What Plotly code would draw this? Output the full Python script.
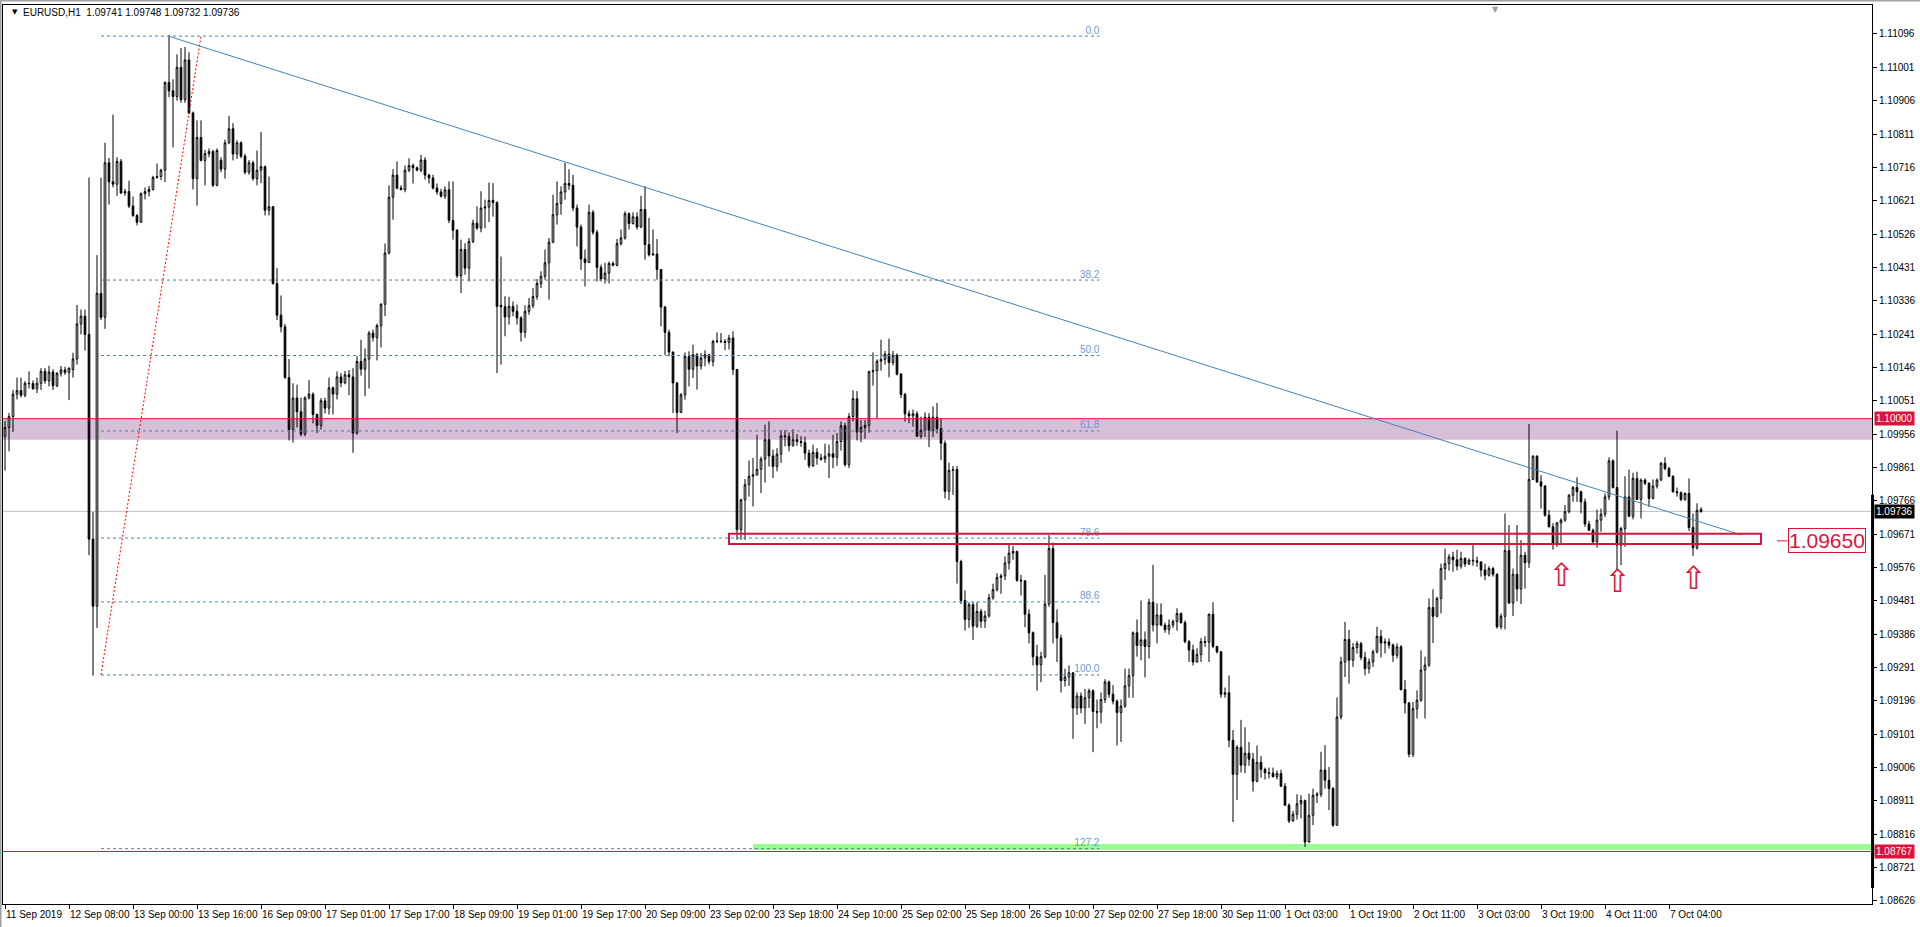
import plotly.graph_objects as go

# ---------------- data (EURUSD H1, bar index 0 = 11 Sep 16:00) ----------------
open_ = [
1.09950,1.09975,1.10006,1.10070,1.10080,1.10067,1.10101,1.10100,1.10085,1.10101,
1.10135,1.10108,1.10133,1.10094,1.10129,1.10139,1.10132,1.10140,1.10170,1.10270,
1.10292,1.10240,1.09657,1.09466,1.10357,1.10289,1.10729,1.10675,1.10668,1.10733,
1.10643,1.10647,1.10606,1.10579,1.10560,1.10641,1.10647,1.10653,1.10687,1.10690,
1.10708,1.10958,1.10934,1.10918,1.11001,1.10909,1.11022,1.10871,1.10684,1.10801,
1.10736,1.10755,1.10761,1.10665,1.10736,1.10711,1.10786,1.10826,1.10754,1.10786,
1.10748,1.10702,1.10729,1.10684,1.10708,1.10718,1.10594,1.10604,1.10385,1.10295,
1.10262,1.10117,1.09969,1.10059,1.10020,1.09956,1.10059,1.10070,1.10012,1.09981,
1.10051,1.10030,1.10088,1.10070,1.10119,1.10102,1.10125,1.10119,1.09959,1.10163,
1.10141,1.10170,1.10244,1.10231,1.10265,1.10326,1.10472,1.10631,1.10694,1.10657,
1.10653,1.10708,1.10721,1.10715,1.10708,1.10737,1.10694,1.10686,1.10657,1.10646,
1.10634,1.10652,1.10565,1.10537,1.10407,1.10482,1.10429,1.10505,1.10557,1.10543,
1.10600,1.10603,1.10622,1.10616,1.10323,1.10319,1.10290,1.10320,1.10306,1.10287,
1.10246,1.10306,1.10322,1.10348,1.10385,1.10406,1.10444,1.10503,1.10581,1.10613,
1.10646,1.10670,1.10665,1.10600,1.10546,1.10455,1.10445,1.10588,1.10531,1.10431,
1.10398,1.10415,1.10442,1.10437,1.10499,1.10515,1.10584,1.10556,1.10575,1.10546,
1.10596,1.10496,1.10467,1.10469,1.10425,1.10318,1.10246,1.10190,1.10102,1.10018,
1.10068,1.10177,1.10141,1.10182,1.10150,1.10173,1.10182,1.10163,1.10220,1.10221,
1.10220,1.10217,1.10230,1.10140,1.09684,1.09769,1.09812,1.09836,1.09840,1.09856,
1.09885,1.09940,1.09894,1.09864,1.09899,1.09951,1.09949,1.09923,1.09940,1.09935,
1.09932,1.09902,1.09866,1.09904,1.09888,1.09885,1.09893,1.09900,1.09890,1.09935,
1.09980,1.09869,1.10006,1.10057,1.09962,1.09975,1.09981,1.10134,1.10137,1.10164,
1.10169,1.10184,1.10160,1.10181,1.10127,1.10069,1.10014,1.10008,1.10014,1.09950,
1.09967,1.10004,1.09967,1.10004,1.09972,1.09930,1.09793,1.09853,1.09855,1.09593,
1.09482,1.09428,1.09470,1.09409,1.09451,1.09423,1.09438,1.09490,1.09513,1.09548,
1.09552,1.09589,1.09617,1.09622,1.09540,1.09538,1.09443,1.09390,1.09322,1.09299,
1.09322,1.09472,1.09630,1.09419,1.09375,1.09254,1.09264,1.09276,1.09176,1.09210,
1.09176,1.09205,1.09225,1.09166,1.09164,1.09200,1.09250,1.09215,1.09195,1.09163,
1.09181,1.09239,1.09268,1.09390,1.09354,1.09370,1.09351,1.09477,1.09412,1.09441,
1.09412,1.09399,1.09412,1.09422,1.09445,1.09419,1.09365,1.09341,1.09307,1.09328,
1.09365,1.09363,1.09443,1.09351,1.09336,1.09215,1.09219,1.09084,1.08987,1.09064,
1.09013,1.09047,1.09030,1.08967,1.09021,1.09001,1.08991,1.08990,1.08980,1.08989,
1.08953,1.08899,1.08854,1.08873,1.08903,1.08912,1.08794,1.08870,1.08927,1.08930,
1.08999,1.08970,1.08946,1.08842,1.09150,1.09307,1.09371,1.09312,1.09348,1.09359,
1.09320,1.09288,1.09307,1.09336,1.09380,1.09361,1.09364,1.09355,1.09326,1.09350,
1.09228,1.09190,1.09044,1.09174,1.09198,1.09284,1.09298,1.09462,1.09437,1.09488,
1.09573,1.09587,1.09606,1.09598,1.09580,1.09602,1.09586,1.09597,1.09595,1.09592,
1.09569,1.09554,1.09573,1.09557,1.09407,1.09437,1.09624,1.09475,1.09557,1.09515,
1.09611,1.09590,1.09827,1.09893,1.09820,1.09808,1.09725,1.09692,1.09645,1.09703,
1.09711,1.09735,1.09782,1.09804,1.09792,1.09763,1.09700,1.09682,1.09649,1.09711,
1.09728,1.09777,1.09880,1.09804,1.09640,1.09687,1.09777,1.09722,1.09830,1.09770,
1.09825,1.09816,1.09773,1.09808,1.09825,1.09873,1.09858,1.09836,1.09792,1.09789,
1.09770,1.09787,1.09690,1.09632,1.09741]

high = [
1.09993,1.10016,1.10082,1.10117,1.10117,1.10107,1.10135,1.10109,1.10117,1.10144,
1.10144,1.10151,1.10141,1.10133,1.10150,1.10148,1.10146,1.10188,1.10324,1.10311,
1.10311,1.10687,1.09734,1.10466,1.10687,1.10786,1.10743,1.10866,1.10745,1.10740,
1.10655,1.10678,1.10633,1.10583,1.10645,1.10659,1.10663,1.10692,1.10727,1.10712,
1.10961,1.11093,1.10967,1.11038,1.11056,1.11059,1.11044,1.10875,1.10850,1.10850,
1.10766,1.10770,1.10766,1.10770,1.10745,1.10795,1.10863,1.10842,1.10793,1.10790,
1.10755,1.10737,1.10735,1.10764,1.10817,1.10721,1.10690,1.10606,1.10429,1.10351,
1.10270,1.10170,1.10101,1.10097,1.10060,1.10064,1.10110,1.10075,1.10015,1.10059,
1.10060,1.10117,1.10092,1.10135,1.10130,1.10136,1.10139,1.10144,1.10178,1.10225,
1.10200,1.10250,1.10254,1.10271,1.10329,1.10499,1.10665,1.10711,1.10733,1.10665,
1.10721,1.10742,1.10727,1.10718,1.10752,1.10745,1.10698,1.10695,1.10670,1.10655,
1.10662,1.10676,1.10676,1.10540,1.10510,1.10500,1.10515,1.10567,1.10605,1.10648,
1.10624,1.10673,1.10671,1.10619,1.10462,1.10349,1.10347,1.10334,1.10325,1.10292,
1.10323,1.10344,1.10372,1.10398,1.10420,1.10482,1.10515,1.10638,1.10676,1.10662,
1.10729,1.10711,1.10695,1.10610,1.10553,1.10482,1.10610,1.10594,1.10538,1.10439,
1.10444,1.10448,1.10448,1.10512,1.10539,1.10591,1.10588,1.10588,1.10588,1.10635,
1.10662,1.10572,1.10539,1.10512,1.10426,1.10321,1.10254,1.10191,1.10104,1.10073,
1.10189,1.10192,1.10211,1.10187,1.10187,1.10195,1.10185,1.10225,1.10246,1.10244,
1.10227,1.10239,1.10249,1.10142,1.09772,1.09828,1.09881,1.09888,1.09954,1.09892,
1.09983,1.09992,1.09912,1.09916,1.09968,1.09968,1.09961,1.09970,1.09956,1.09950,
1.09949,1.09912,1.09926,1.09916,1.09900,1.09929,1.09926,1.09954,1.09959,1.09992,
1.09988,1.10016,1.10081,1.10079,1.09996,1.09996,1.10137,1.10189,1.10169,1.10225,
1.10193,1.10228,1.10193,1.10186,1.10130,1.10074,1.10023,1.10026,1.10021,1.10006,
1.10018,1.10016,1.10035,1.10045,1.10001,1.09938,1.09875,1.09865,1.09865,1.09598,
1.09511,1.09477,1.09477,1.09477,1.09458,1.09453,1.09501,1.09530,1.09560,1.09558,
1.09608,1.09642,1.09637,1.09624,1.09555,1.09540,1.09457,1.09394,1.09356,1.09336,
1.09555,1.09668,1.09647,1.09457,1.09385,1.09288,1.09297,1.09278,1.09220,1.09220,
1.09230,1.09231,1.09229,1.09200,1.09220,1.09258,1.09254,1.09241,1.09200,1.09200,
1.09288,1.09288,1.09394,1.09428,1.09482,1.09394,1.09487,1.09584,1.09474,1.09474,
1.09419,1.09428,1.09428,1.09460,1.09448,1.09425,1.09370,1.09356,1.09346,1.09375,
1.09380,1.09445,1.09477,1.09353,1.09338,1.09234,1.09268,1.09113,1.09070,1.09142,
1.09121,1.09079,1.09048,1.09069,1.09039,1.09006,1.09006,1.09006,1.08998,1.09000,
1.08962,1.08904,1.08883,1.08930,1.08927,1.08915,1.08932,1.08946,1.08936,1.09051,
1.09070,1.09008,1.08951,1.09206,1.09322,1.09421,1.09398,1.09361,1.09367,1.09364,
1.09336,1.09317,1.09342,1.09407,1.09398,1.09374,1.09374,1.09360,1.09360,1.09355,
1.09255,1.09193,1.09193,1.09226,1.09340,1.09322,1.09488,1.09514,1.09493,1.09587,
1.09630,1.09614,1.09621,1.09627,1.09621,1.09605,1.09602,1.09640,1.09607,1.09594,
1.09587,1.09580,1.09578,1.09559,1.09445,1.09730,1.09697,1.09573,1.09697,1.09654,
1.09621,1.09985,1.09896,1.09896,1.09839,1.09811,1.09740,1.09702,1.09706,1.09716,
1.09754,1.09785,1.09808,1.09833,1.09795,1.09773,1.09709,1.09687,1.09741,1.09744,
1.09787,1.09890,1.09884,1.09966,1.09692,1.09836,1.09855,1.09846,1.09849,1.09830,
1.09830,1.09819,1.09827,1.09830,1.09877,1.09890,1.09863,1.09839,1.09804,1.09793,
1.09790,1.09830,1.09730,1.09759,1.09748]

low = [
1.09852,1.09907,1.09962,1.10055,1.10061,1.10061,1.10086,1.10083,1.10073,1.10082,
1.10100,1.10092,1.10082,1.10090,1.10120,1.10125,1.10053,1.10117,1.10154,1.10240,
1.10194,1.09611,1.09268,1.09404,1.10281,1.10256,1.10610,1.10659,1.10635,1.10640,
1.10635,1.10600,1.10575,1.10551,1.10558,1.10625,1.10633,1.10650,1.10684,1.10680,
1.10674,1.10916,1.10773,1.10906,1.10900,1.10900,1.10868,1.10653,1.10607,1.10733,
1.10665,1.10745,1.10660,1.10662,1.10702,1.10684,1.10782,1.10736,1.10740,1.10742,
1.10696,1.10695,1.10678,1.10665,1.10671,1.10579,1.10579,1.10382,1.10281,1.10246,
1.10114,1.09938,1.09932,1.09975,1.09950,1.09950,1.10055,1.09987,1.09959,1.09969,
1.10015,1.10012,1.10012,1.10055,1.10090,1.10098,1.10067,1.09903,1.09954,1.10123,
1.10064,1.10086,1.10220,1.10166,1.10203,1.10292,1.10468,1.10567,1.10653,1.10650,
1.10645,1.10702,1.10670,1.10705,1.10702,1.10681,1.10670,1.10653,1.10638,1.10630,
1.10626,1.10557,1.10510,1.10401,1.10358,1.10410,1.10391,1.10500,1.10538,1.10531,
1.10543,1.10560,1.10576,1.10130,1.10154,1.10235,1.10268,1.10292,1.10268,1.10220,
1.10230,1.10296,1.10315,1.10339,1.10372,1.10396,1.10339,1.10500,1.10553,1.10581,
1.10624,1.10652,1.10591,1.10491,1.10424,1.10377,1.10444,1.10524,1.10391,1.10391,
1.10385,1.10385,1.10434,1.10434,1.10493,1.10510,1.10539,1.10553,1.10539,1.10543,
1.10453,1.10462,1.10464,1.10396,1.10263,1.10182,1.10178,1.10016,1.09959,1.10016,
1.10054,1.10092,1.10116,1.10083,1.10140,1.10149,1.10155,1.10149,1.10215,1.10215,
1.10195,1.10197,1.10125,1.09655,1.09655,1.09655,1.09778,1.09750,1.09838,1.09788,
1.09818,1.09864,1.09831,1.09850,1.09874,1.09921,1.09907,1.09921,1.09923,1.09920,
1.09883,1.09859,1.09862,1.09869,1.09880,1.09874,1.09831,1.09859,1.09866,1.09909,
1.09864,1.09859,1.09992,1.09938,1.09933,1.09943,1.09960,1.10094,1.10001,1.10137,
1.10154,1.10118,1.10152,1.10123,1.10059,1.09992,1.09987,1.09977,1.09948,1.09943,
1.09948,1.09919,1.09948,1.09958,1.09882,1.09773,1.09768,1.09783,1.09530,1.09472,
1.09396,1.09404,1.09370,1.09404,1.09404,1.09404,1.09433,1.09484,1.09508,1.09501,
1.09540,1.09570,1.09598,1.09535,1.09496,1.09406,1.09360,1.09297,1.09225,1.09249,
1.09317,1.09464,1.09360,1.09307,1.09220,1.09237,1.09239,1.09088,1.09156,1.09161,
1.09130,1.09176,1.09050,1.09118,1.09132,1.09190,1.09205,1.09186,1.09069,1.09079,
1.09176,1.09205,1.09205,1.09322,1.09312,1.09263,1.09317,1.09394,1.09360,1.09409,
1.09390,1.09385,1.09404,1.09396,1.09416,1.09360,1.09307,1.09297,1.09305,1.09307,
1.09350,1.09307,1.09346,1.09331,1.09205,1.09205,1.09064,1.08851,1.08914,1.08992,
1.08990,1.09011,1.08938,1.08964,1.08977,1.08972,1.08975,1.08978,1.08972,1.08951,
1.08896,1.08848,1.08852,1.08858,1.08861,1.08780,1.08792,1.08842,1.08905,1.08922,
1.08946,1.08885,1.08837,1.08840,1.09143,1.09264,1.09245,1.09293,1.09331,1.09312,
1.09269,1.09274,1.09293,1.09331,1.09320,1.09331,1.09345,1.09307,1.09317,1.09226,
1.09160,1.09035,1.09036,1.09146,1.09193,1.09146,1.09293,1.09361,1.09434,1.09445,
1.09540,1.09567,1.09564,1.09568,1.09573,1.09578,1.09583,1.09581,1.09578,1.09550,
1.09540,1.09550,1.09550,1.09402,1.09400,1.09400,1.09472,1.09438,1.09480,1.09472,
1.09516,1.09575,1.09825,1.09817,1.09744,1.09721,1.09690,1.09627,1.09635,1.09645,
1.09706,1.09730,1.09763,1.09763,1.09730,1.09692,1.09681,1.09645,1.09633,1.09678,
1.09720,1.09768,1.09801,1.09570,1.09583,1.09635,1.09720,1.09713,1.09768,1.09716,
1.09811,1.09749,1.09770,1.09801,1.09823,1.09853,1.09834,1.09789,1.09778,1.09765,
1.09766,1.09680,1.09609,1.09627,1.09732]

close = [
1.09975,1.10006,1.10070,1.10080,1.10067,1.10101,1.10100,1.10085,1.10101,1.10135,
1.10108,1.10133,1.10094,1.10129,1.10139,1.10132,1.10144,1.10170,1.10270,1.10292,
1.10240,1.09657,1.09466,1.10357,1.10289,1.10729,1.10675,1.10668,1.10733,1.10643,
1.10647,1.10606,1.10579,1.10560,1.10641,1.10647,1.10653,1.10687,1.10690,1.10708,
1.10958,1.10934,1.10918,1.11001,1.10909,1.11022,1.10871,1.10684,1.10801,1.10736,
1.10755,1.10761,1.10665,1.10764,1.10711,1.10786,1.10826,1.10754,1.10786,1.10748,
1.10702,1.10729,1.10684,1.10708,1.10718,1.10594,1.10604,1.10385,1.10295,1.10262,
1.10117,1.09969,1.10059,1.10020,1.09956,1.10059,1.10070,1.10012,1.09981,1.10051,
1.10030,1.10088,1.10070,1.10119,1.10102,1.10125,1.10119,1.09959,1.10163,1.10141,
1.10170,1.10244,1.10231,1.10265,1.10326,1.10472,1.10631,1.10694,1.10657,1.10653,
1.10708,1.10721,1.10715,1.10708,1.10737,1.10694,1.10686,1.10657,1.10646,1.10634,
1.10652,1.10565,1.10537,1.10407,1.10482,1.10429,1.10505,1.10557,1.10543,1.10600,
1.10603,1.10622,1.10616,1.10320,1.10319,1.10290,1.10320,1.10306,1.10287,1.10246,
1.10306,1.10322,1.10348,1.10385,1.10406,1.10444,1.10503,1.10581,1.10613,1.10646,
1.10670,1.10665,1.10600,1.10546,1.10455,1.10445,1.10588,1.10531,1.10431,1.10398,
1.10415,1.10442,1.10437,1.10499,1.10515,1.10584,1.10556,1.10575,1.10546,1.10596,
1.10496,1.10467,1.10469,1.10425,1.10318,1.10246,1.10190,1.10102,1.10018,1.10068,
1.10177,1.10141,1.10182,1.10150,1.10173,1.10182,1.10163,1.10220,1.10221,1.10220,
1.10217,1.10230,1.10140,1.09684,1.09769,1.09812,1.09836,1.09840,1.09856,1.09885,
1.09940,1.09894,1.09864,1.09899,1.09951,1.09949,1.09923,1.09940,1.09935,1.09932,
1.09902,1.09866,1.09904,1.09888,1.09885,1.09893,1.09900,1.09890,1.09935,1.09980,
1.09869,1.10006,1.10057,1.09962,1.09975,1.09981,1.10134,1.10137,1.10164,1.10169,
1.10184,1.10160,1.10181,1.10127,1.10069,1.10014,1.10008,1.10014,1.09950,1.09967,
1.10004,1.09967,1.10004,1.09972,1.09930,1.09793,1.09853,1.09855,1.09593,1.09482,
1.09428,1.09470,1.09409,1.09451,1.09423,1.09438,1.09490,1.09513,1.09548,1.09552,
1.09589,1.09617,1.09622,1.09540,1.09538,1.09443,1.09390,1.09322,1.09299,1.09322,
1.09472,1.09630,1.09419,1.09375,1.09254,1.09264,1.09276,1.09176,1.09210,1.09176,
1.09205,1.09225,1.09166,1.09164,1.09200,1.09250,1.09215,1.09195,1.09163,1.09181,
1.09239,1.09268,1.09390,1.09354,1.09370,1.09351,1.09477,1.09412,1.09441,1.09412,
1.09399,1.09412,1.09422,1.09445,1.09419,1.09365,1.09341,1.09307,1.09328,1.09365,
1.09363,1.09443,1.09351,1.09336,1.09215,1.09219,1.09084,1.08987,1.09064,1.09013,
1.09047,1.09030,1.08967,1.09021,1.09001,1.08991,1.08990,1.08980,1.08989,1.08953,
1.08899,1.08854,1.08873,1.08903,1.08912,1.08794,1.08870,1.08927,1.08930,1.08999,
1.08970,1.08946,1.08842,1.09150,1.09307,1.09371,1.09312,1.09348,1.09359,1.09320,
1.09288,1.09307,1.09336,1.09380,1.09361,1.09364,1.09355,1.09326,1.09350,1.09228,
1.09190,1.09044,1.09174,1.09198,1.09284,1.09298,1.09462,1.09437,1.09488,1.09573,
1.09587,1.09606,1.09598,1.09580,1.09602,1.09586,1.09597,1.09595,1.09592,1.09569,
1.09554,1.09573,1.09557,1.09407,1.09437,1.09624,1.09475,1.09557,1.09515,1.09611,
1.09590,1.09827,1.09893,1.09820,1.09808,1.09725,1.09692,1.09645,1.09703,1.09711,
1.09735,1.09782,1.09804,1.09792,1.09763,1.09700,1.09682,1.09649,1.09711,1.09728,
1.09777,1.09880,1.09804,1.09640,1.09687,1.09777,1.09722,1.09830,1.09770,1.09825,
1.09816,1.09773,1.09808,1.09825,1.09873,1.09858,1.09836,1.09792,1.09789,1.09770,
1.09787,1.09690,1.09632,1.09739,1.09736]

bar_index = list(range(len(close)))

# time-axis labels (every 16 bars)
time_tick_pos = [0, 16, 32, 48, 64, 80, 96, 112, 128, 144, 160, 176, 192, 208,
                 224, 240, 256, 272, 288, 304, 320, 336, 352, 368, 384, 400, 416]
time_tick_text = ["11 Sep 2019", "12 Sep 08:00", "13 Sep 00:00", "13 Sep 16:00",
                  "16 Sep 09:00", "17 Sep 01:00", "17 Sep 17:00", "18 Sep 09:00",
                  "19 Sep 01:00", "19 Sep 17:00", "20 Sep 09:00", "23 Sep 02:00",
                  "23 Sep 18:00", "24 Sep 10:00", "25 Sep 02:00", "25 Sep 18:00",
                  "26 Sep 10:00", "27 Sep 02:00", "27 Sep 18:00", "30 Sep 11:00",
                  "1 Oct 03:00", "1 Oct 19:00", "2 Oct 11:00", "3 Oct 03:00",
                  "3 Oct 19:00", "4 Oct 11:00", "7 Oct 04:00"]

price_ticks = [1.08626, 1.08721, 1.08816, 1.08911, 1.09006, 1.09101, 1.09196,
               1.09291, 1.09386, 1.09481, 1.09576, 1.09671, 1.09766, 1.09861,
               1.09956, 1.10051, 1.10146, 1.10241, 1.10336, 1.10431, 1.10526,
               1.10621, 1.10716, 1.10811, 1.10906, 1.11001, 1.11096]
price_tick_text = ["%.5f" % v for v in price_ticks]

# Fibonacci retracement (anchors: low 1.0927 -> high 1.1109)
fib_anchor_x = [24, 49]
fib_anchor_y = [1.09270, 1.11090]
fib_line_end_x = 273.6
fib_levels = ["0.0", "38.2", "50.0", "61.8", "78.6", "88.6", "100.0", "127.2"]
fib_prices = [1.11090, 1.10395, 1.10180, 1.09965, 1.09660, 1.09478, 1.09270, 1.08775]

# trend line
trend_x = [41.1, 434]
trend_y = [1.11089, 1.09669]

# zones / levels
purple_zone = [1.09940, 1.10000]
green_zone = [1.08771, 1.08788]
green_zone_start = 187
support_box_x = [181, 439]
support_box_y = [1.09643, 1.09672]
support_label = "1.09650"
support_label_x = 445.75
support_label_dash_x = [443, 445.6]
support_label_y = 1.09652
red_level = 1.08767
resistance_level = 1.10000
bid_price = 1.09736
bid_marker_range = [1.08663, 1.09783]
arrow_x = [389, 403, 422]
arrow_y = [1.09556, 1.09538, 1.09547]
header = "EURUSD,H1\u00a0\u00a01.09741 1.09748 1.09732 1.09736"

# ---------------- figure ----------------
CRIMSON = "#DC143C"
FIBC = "#4682B4"
FONT = "Liberation Sans, Arial, sans-serif"

fig = go.Figure()
fig.add_trace(go.Candlestick(
    x=bar_index, open=open_, high=high, low=low, close=close,
    increasing=dict(line=dict(color="black", width=1), fillcolor="white"),
    decreasing=dict(line=dict(color="black", width=1), fillcolor="black"),
    whiskerwidth=0, hoverinfo="skip", showlegend=False))

# fib labels as text trace (so the box outline can cross them)
fig.add_trace(go.Scatter(
    x=[fib_line_end_x] * len(fib_levels), y=fib_prices, text=fib_levels,
    mode="text", textposition="top left",
    textfont=dict(family=FONT, size=10, color="#6A9BD1"),
    hoverinfo="skip", showlegend=False))

shapes = []
shapes.append(dict(type="rect", xref="paper", x0=0, x1=1, yref="y",
                   y0=purple_zone[0], y1=purple_zone[1],
                   fillcolor="#D8BFD8", line=dict(width=0), layer="below"))
shapes.append(dict(type="line", xref="paper", x0=0, x1=1, yref="y",
                   y0=resistance_level, y1=resistance_level,
                   line=dict(color=CRIMSON, width=1), layer="above"))
shapes.append(dict(type="rect", xref="x", x0=green_zone_start, x1=466.75, yref="y",
                   y0=green_zone[0], y1=green_zone[1],
                   fillcolor="#98FB98", line=dict(width=0), layer="below"))
shapes.append(dict(type="line", xref="paper", x0=0, x1=1, yref="y",
                   y0=red_level, y1=red_level,
                   line=dict(color=CRIMSON, width=1), layer="above"))
shapes.append(dict(type="line", xref="paper", x0=0, x1=1, yref="y",
                   y0=bid_price, y1=bid_price,
                   line=dict(color="#C0C0C0", width=1), layer="below"))
for p in fib_prices:
    shapes.append(dict(type="line", xref="x", x0=fib_anchor_x[0], x1=fib_line_end_x,
                       yref="y", y0=p, y1=p,
                       line=dict(color=FIBC, width=1, dash="3px,3px"), layer="above"))
shapes.append(dict(type="line", xref="x", x0=fib_anchor_x[0], x1=fib_anchor_x[1],
                   yref="y", y0=fib_anchor_y[0], y1=fib_anchor_y[1],
                   line=dict(color="red", width=1, dash="2px,2px"), layer="above"))
shapes.append(dict(type="line", xref="x", x0=trend_x[0], x1=trend_x[1],
                   yref="y", y0=trend_y[0], y1=trend_y[1],
                   line=dict(color=FIBC, width=1), layer="above"))
shapes.append(dict(type="rect", xref="x", x0=support_box_x[0], x1=support_box_x[1],
                   yref="y", y0=support_box_y[0], y1=support_box_y[1],
                   line=dict(color=CRIMSON, width=2), fillcolor="rgba(0,0,0,0)",
                   layer="above"))
shapes.append(dict(type="line", xref="x", x0=support_label_dash_x[0],
                   x1=support_label_dash_x[1], yref="y",
                   y0=support_label_y, y1=support_label_y,
                   line=dict(color=CRIMSON, width=1), layer="above"))
shapes.append(dict(type="line", xref="paper", x0=1.0003, x1=1.0003, yref="y",
                   y0=bid_marker_range[0], y1=bid_marker_range[1],
                   line=dict(color="black", width=3), layer="above"))
shapes.append(dict(type="line", xref="paper", yref="paper", x0=-0.002, x1=1.03,
                   y0=1.0051, y1=1.0051, line=dict(color="#A0A0A0", width=2)))
shapes.append(dict(type="line", xref="paper", yref="paper", x0=-0.0013, x1=-0.0013,
                   y0=-0.03, y1=1.006, line=dict(color="#A0A0A0", width=2)))

annotations = []
for pos, txt in zip(time_tick_pos, time_tick_text):
    annotations.append(dict(x=pos, xref="x", y=0, yref="paper", text=txt,
                            showarrow=False, xanchor="left", yanchor="top",
                            xshift=-1, yshift=-3,
                            font=dict(family=FONT, size=10, color="black")))
for val, bg in [(resistance_level, CRIMSON), (bid_price, "black"), (red_level, CRIMSON)]:
    annotations.append(dict(x=1, xref="paper", y=val, yref="y", text="%.5f" % val,
                            showarrow=False, xanchor="left", yanchor="middle",
                            xshift=2, bgcolor=bg, borderpad=1,
                            font=dict(family=FONT, size=10, color="white")))
annotations.append(dict(x=support_label_x, xref="x", y=support_label_y, yref="y",
                        text=support_label, showarrow=False, xanchor="left",
                        yanchor="middle", bgcolor="white", bordercolor=CRIMSON,
                        borderwidth=1, borderpad=0,
                        font=dict(family=FONT, size=21, color=CRIMSON)))
for ax_, ay_ in zip(arrow_x, arrow_y):
    annotations.append(dict(x=ax_, xref="x", y=ay_, yref="y", text="\u21e7",
                            showarrow=False, xanchor="center", yanchor="middle",
                            font=dict(family="DejaVu Sans", size=32, color=CRIMSON)))
annotations.append(dict(x=0.0035, xref="paper", y=0.992, yref="paper", text="\u25bc",
                        showarrow=False, xanchor="left", yanchor="middle",
                        font=dict(family="DejaVu Sans", size=7, color="black")))
annotations.append(dict(x=0.0094, xref="paper", y=0.992, yref="paper", text=header,
                        showarrow=False, xanchor="left", yanchor="middle",
                        font=dict(family=FONT, size=10, color="black")))
annotations.append(dict(x=0.7988, xref="paper", y=1.0, yref="paper", text="\u25bc",
                        showarrow=False, xanchor="center", yanchor="top", yshift=2,
                        font=dict(family="DejaVu Sans", size=8, color="#A0A0A0")))

fig.update_layout(
    width=1920, height=927, autosize=False,
    margin=dict(l=3, r=48, t=5, b=23, pad=0),
    paper_bgcolor="white", plot_bgcolor="white",
    showlegend=False, boxgap=0.4,
    shapes=shapes, annotations=annotations,
    font=dict(family=FONT, size=10, color="black"),
    xaxis=dict(range=[-0.5, 466.75], showgrid=False, zeroline=False,
               rangeslider=dict(visible=False), showticklabels=False,
               tickmode="array", tickvals=time_tick_pos, ticks="outside",
               ticklen=4, tickcolor="black", showline=True, linecolor="black",
               linewidth=1, mirror=True, fixedrange=True),
    yaxis=dict(range=[1.086174, 1.111786], side="right", showgrid=False,
               zeroline=False, tickmode="array", tickvals=price_ticks,
               ticktext=price_tick_text, ticks="outside", ticklen=4,
               tickcolor="black", tickfont=dict(family=FONT, size=10, color="black"),
               showline=True, linecolor="black", linewidth=1, mirror=True,
               fixedrange=True),
)

fig.write_html("out.html", include_plotlyjs=True, config={"displayModeBar": False},
               post_script="document.body.style.margin='0';document.body.style.overflow='hidden';")
